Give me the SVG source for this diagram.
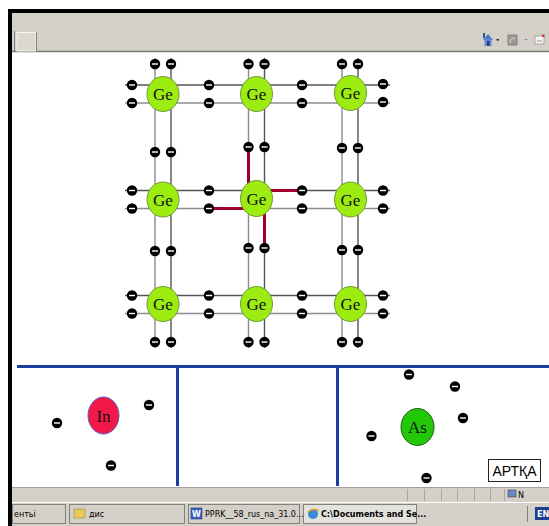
<svg xmlns="http://www.w3.org/2000/svg" xmlns:xlink="http://www.w3.org/1999/xlink" width="549" height="526" viewBox="0 0 549 526">
  <style>
    .grid-a { stroke: #555; stroke-width: 1.4; fill: none; }
    .grid-b { stroke: #8c8c8c; stroke-width: 1.4; fill: none; }
    .bond { stroke: #a1002c; stroke-width: 3; fill: none; }
    .ge { fill: #9cec12; stroke: #6f9a3a; stroke-width: 1; }
    .lbl { font-family: "Liberation Serif", "Times New Roman", serif; font-size: 17px; fill: #111; text-anchor: middle; }
    .wall { stroke: #1b3f9f; stroke-width: 3; fill: none; }
    .tb { font-family: "DejaVu Sans", "Liberation Sans", sans-serif; font-size: 8px; fill: #000; }
    .btn { fill: #d4d0c8; stroke: #808080; stroke-width: 1; }
  </style>
  <defs>
    <g id="e">
      <circle r="5.2" fill="#000"/>
      <line x1="-3" y1="0" x2="3" y2="0" stroke="#fff" stroke-width="1.4"/>
    </g>
  </defs>

  <!-- window frame -->
  <rect x="0" y="0" width="549" height="526" fill="#fff"/>
  <rect x="8" y="9" width="541" height="4" fill="#000"/>
  <rect x="8" y="9" width="4" height="517" fill="#000"/>

  <!-- browser toolbar -->
  <rect x="12" y="13" width="537" height="38" fill="#d4d0c8"/>
  <line x1="12" y1="51.5" x2="549" y2="51.5" stroke="#7a7a7a" stroke-width="1.5"/>
  <line x1="14.5" y1="31" x2="14.5" y2="51" stroke="#808080" stroke-width="1"/>
  <rect x="17" y="32.5" width="19" height="18.5" fill="#dcd8d0" stroke="#f4f4f4" stroke-width="1"/>
  <line x1="36.5" y1="32" x2="36.5" y2="51" stroke="#808080" stroke-width="1"/>
  <!-- toolbar icons -->
  <g id="toolbar-icons">
    <path d="M483,40 L488,34 L493,40 Z" fill="#4a78c8"/>
    <rect x="484.5" y="39" width="7" height="7" fill="#5c8ad8"/>
    <rect x="487" y="41" width="2.5" height="5" fill="#2a3a70"/>
    <rect x="483" y="33" width="2" height="5" fill="#3050a0"/>
    <rect x="496.5" y="39" width="2.5" height="1.5" fill="#222"/>
    <rect x="508" y="35" width="9" height="10" fill="#9a9a9a" stroke="#777" stroke-width="0.8"/>
    <path d="M510,43 Q510,38 515,38" stroke="#ddd" stroke-width="1" fill="none"/>
    <rect x="525" y="39" width="2.5" height="1.2" fill="#888"/>
    <rect x="535" y="36" width="9" height="8" fill="#f2f2f2" stroke="#999" stroke-width="0.8"/>
    <line x1="537" y1="41" x2="542" y2="41" stroke="#999" stroke-width="1"/>
    <rect x="542" y="34.5" width="2.5" height="2.5" fill="#e03030"/>
  </g>

  <!-- lattice connectors -->
  <g id="connectors">
    <!-- row pairs -->
    <line class="grid-a" x1="125" y1="85" x2="390" y2="85"/>
    <line class="grid-b" x1="125" y1="103" x2="390" y2="103"/>
    <line class="grid-a" x1="125" y1="190.5" x2="390" y2="190.5"/>
    <line class="grid-b" x1="125" y1="208.5" x2="390" y2="208.5"/>
    <line class="grid-a" x1="125" y1="295.5" x2="390" y2="295.5"/>
    <line class="grid-b" x1="125" y1="313.5" x2="390" y2="313.5"/>
    <!-- column pairs -->
    <line class="grid-b" x1="155" y1="58" x2="155" y2="348"/>
    <line class="grid-a" x1="171" y1="58" x2="171" y2="348"/>
    <line class="grid-b" x1="248.5" y1="58" x2="248.5" y2="348"/>
    <line class="grid-a" x1="264.5" y1="58" x2="264.5" y2="348"/>
    <line class="grid-b" x1="342" y1="58" x2="342" y2="348"/>
    <line class="grid-a" x1="358" y1="58" x2="358" y2="348"/>
    <!-- highlighted bonds of the centre atom -->
    <line class="bond" x1="248.5" y1="147" x2="248.5" y2="188"/>
    <line class="bond" x1="266" y1="190.5" x2="302" y2="190.5"/>
    <line class="bond" x1="209" y1="208.5" x2="247" y2="208.5"/>
    <line class="bond" x1="264.5" y1="211" x2="264.5" y2="248"/>
  </g>

  <!-- Ge atoms -->
  <g id="ge-1-1"><ellipse class="ge" cx="163" cy="94" rx="16" ry="17.5"/><text class="lbl" x="163" y="100">Ge</text></g>
  <g id="ge-1-2"><ellipse class="ge" cx="256.5" cy="94" rx="16" ry="17.5"/><text class="lbl" x="256.5" y="100">Ge</text></g>
  <g id="ge-1-3"><ellipse class="ge" cx="350.5" cy="93" rx="16" ry="17.5"/><text class="lbl" x="350.5" y="99">Ge</text></g>
  <g id="ge-2-1"><ellipse class="ge" cx="163" cy="199.5" rx="16" ry="17.5"/><text class="lbl" x="163" y="205.5">Ge</text></g>
  <g id="ge-2-2"><ellipse class="ge" cx="256.5" cy="198.5" rx="16" ry="18"/><text class="lbl" x="256.5" y="204.5">Ge</text></g>
  <g id="ge-2-3"><ellipse class="ge" cx="350.5" cy="199.5" rx="16" ry="17.5"/><text class="lbl" x="350.5" y="205.5">Ge</text></g>
  <g id="ge-3-1"><ellipse class="ge" cx="163" cy="304" rx="16" ry="17.5"/><text class="lbl" x="163" y="310">Ge</text></g>
  <g id="ge-3-2"><ellipse class="ge" cx="256.5" cy="304" rx="16" ry="17.5"/><text class="lbl" x="256.5" y="310">Ge</text></g>
  <g id="ge-3-3"><ellipse class="ge" cx="350.5" cy="304" rx="16" ry="17.5"/><text class="lbl" x="350.5" y="310">Ge</text></g>

  <!-- valence electrons -->
  <g id="electrons">
    <!-- top edge -->
    <use href="#e" x="155" y="64"/><use href="#e" x="171" y="64"/>
    <use href="#e" x="248.5" y="64"/><use href="#e" x="264.5" y="64"/>
    <use href="#e" x="342" y="64"/><use href="#e" x="358" y="64"/>
    <!-- between rows 1 and 2 -->
    <use href="#e" x="155" y="152"/><use href="#e" x="171" y="152"/>
    <use href="#e" x="248.5" y="147"/><use href="#e" x="264.5" y="147"/>
    <use href="#e" x="342" y="148"/><use href="#e" x="358" y="148"/>
    <!-- between rows 2 and 3 -->
    <use href="#e" x="155" y="251"/><use href="#e" x="171" y="251"/>
    <use href="#e" x="248.5" y="248"/><use href="#e" x="264.5" y="248"/>
    <use href="#e" x="342" y="250"/><use href="#e" x="358" y="250"/>
    <!-- bottom edge -->
    <use href="#e" x="155" y="342"/><use href="#e" x="171" y="342"/>
    <use href="#e" x="248.5" y="342"/><use href="#e" x="264.5" y="342"/>
    <use href="#e" x="342" y="342"/><use href="#e" x="358" y="342"/>
    <!-- row 1 -->
    <use href="#e" x="132" y="85"/><use href="#e" x="132" y="103"/>
    <use href="#e" x="209" y="85"/><use href="#e" x="209" y="103"/>
    <use href="#e" x="302" y="85"/><use href="#e" x="302" y="103"/>
    <use href="#e" x="383" y="84"/><use href="#e" x="383" y="102"/>
    <!-- row 2 -->
    <use href="#e" x="132" y="190.5"/><use href="#e" x="132" y="208.5"/>
    <use href="#e" x="209" y="190.5"/><use href="#e" x="209" y="208.5"/>
    <use href="#e" x="302" y="190.5"/><use href="#e" x="302" y="208.5"/>
    <use href="#e" x="383" y="190.5"/><use href="#e" x="383" y="208.5"/>
    <!-- row 3 -->
    <use href="#e" x="132" y="295.5"/><use href="#e" x="132" y="313.5"/>
    <use href="#e" x="209" y="295.5"/><use href="#e" x="209" y="313.5"/>
    <use href="#e" x="302" y="295.5"/><use href="#e" x="302" y="313.5"/>
    <use href="#e" x="383" y="295.5"/><use href="#e" x="383" y="313.5"/>
  </g>

  <!-- lower panels -->
  <g id="panel-walls">
    <line class="wall" x1="17" y1="366.5" x2="549" y2="366.5"/>
    <line class="wall" x1="177.5" y1="366" x2="177.5" y2="486"/>
    <line class="wall" x1="337.5" y1="366" x2="337.5" y2="486"/>
  </g>

  <g id="in-atom">
    <ellipse cx="103.5" cy="415.5" rx="15.5" ry="18.5" fill="#f2184a" stroke="#5a5cc0" stroke-width="1"/>
    <text class="lbl" x="103.5" y="421.5">In</text>
  </g>
  <g id="in-electrons">
    <use href="#e" x="57" y="423"/>
    <use href="#e" x="149" y="405"/>
    <use href="#e" x="111" y="465.5"/>
  </g>

  <g id="as-atom">
    <ellipse cx="417.5" cy="427" rx="16.5" ry="18.5" fill="#22c808" stroke="#1d5e14" stroke-width="1"/>
    <text class="lbl" x="417.5" y="433">As</text>
  </g>
  <g id="as-electrons">
    <use href="#e" x="409" y="374.5"/>
    <use href="#e" x="455" y="386.5"/>
    <use href="#e" x="463" y="418"/>
    <use href="#e" x="371.5" y="436"/>
    <use href="#e" x="426.5" y="478"/>
  </g>

  <g id="back-button">
    <rect x="488.5" y="459.5" width="52" height="22" fill="#fff" stroke="#222" stroke-width="1"/>
    <text x="514.5" y="476" font-family="Liberation Sans, Arial, sans-serif" font-size="14" fill="#000" text-anchor="middle">АРТҚА</text>
  </g>

  <!-- status bar -->
  <rect x="12" y="487" width="537" height="15" fill="#d4d0c8"/>
  <line x1="12" y1="487.5" x2="549" y2="487.5" stroke="#a0a0a0" stroke-width="1"/>
  <g stroke="#a8a8a8" stroke-width="1">
    <line x1="407.5" y1="489" x2="407.5" y2="501"/>
    <line x1="424.5" y1="489" x2="424.5" y2="501"/>
    <line x1="441.5" y1="489" x2="441.5" y2="501"/>
    <line x1="457.5" y1="489" x2="457.5" y2="501"/>
    <line x1="474.5" y1="489" x2="474.5" y2="501"/>
    <line x1="490.5" y1="489" x2="490.5" y2="501"/>
    <line x1="504.5" y1="489" x2="504.5" y2="501"/>
  </g>
  <rect x="508" y="490" width="8" height="7" fill="#6a88c0" stroke="#445" stroke-width="0.6"/>
  <text class="tb" x="518" y="498">N</text>

  <!-- taskbar -->
  <rect x="12" y="502" width="537" height="24" fill="#d4d0c8"/>
  <line x1="12" y1="502.5" x2="549" y2="502.5" stroke="#ffffff" stroke-width="1"/>
  <rect class="btn" x="12.5" y="504.5" width="53" height="19"/>
  <text class="tb" x="14" y="517">ентьі</text>
  <rect class="btn" x="69.5" y="504.5" width="115" height="19"/>
  <rect x="74" y="509" width="11" height="9" fill="#e8c75a" stroke="#a58a30" stroke-width="0.6"/>
  <text class="tb" x="89" y="517">дис</text>
  <rect class="btn" x="188.5" y="504.5" width="111" height="19"/>
  <rect x="191" y="508" width="11" height="11" fill="#3a5fc0" stroke="#233a80" stroke-width="0.6"/>
  <text x="196.5" y="517" font-family="DejaVu Sans, sans-serif" font-size="8" font-weight="bold" fill="#fff" text-anchor="middle">W</text>
  <text class="tb" x="205" y="517">PPRK__58_rus_na_31.0...</text>
  <rect x="303.5" y="504.5" width="113" height="19" fill="#e4e2dc" stroke="#808080" stroke-width="1"/>
  <circle cx="313" cy="514" r="5" fill="#3a8ad8"/>
  <path d="M308,512 Q314,507 319,511" stroke="#e0a020" stroke-width="1.4" fill="none"/>
  <text class="tb" x="321" y="517" font-weight="bold">C:\Documents and Se...</text>
  <line x1="527.5" y1="506" x2="527.5" y2="522" stroke="#808080" stroke-width="1"/>
  <rect x="535" y="507" width="14" height="13" fill="#1c3f8c"/>
  <text x="537" y="517" font-family="DejaVu Sans, sans-serif" font-size="8" font-weight="bold" fill="#fff">EN</text>
</svg>
